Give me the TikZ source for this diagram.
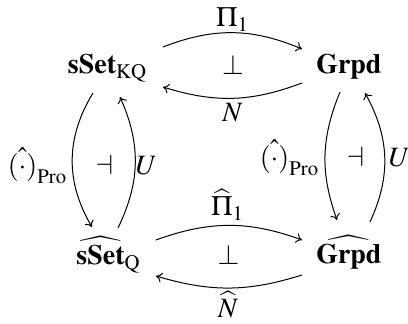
\documentclass[tikz,border=0pt]{standalone}
\usepackage{mathptmx}
\usepackage[no-math]{fontspec}
\setmainfont{Liberation Serif}
\usetikzlibrary{arrows.meta}
\begin{document}
\begin{tikzpicture}[x=0.5pt,y=-0.5pt,
  every node/.style={inner sep=0pt, font=\fontsize{14}{16}\selectfont},
  obj/.style={anchor=base},
  lbl/.style={anchor=base},
  arr/.style={-{To[length=3pt,width=5pt]}, line width=0.5pt}]
\useasboundingbox (0,0) rectangle (408,324);
\node[obj] (A) at (107.5,74) {$\mathbf{sSet}_{\mathrm{KQ}}$};
\node[obj] (B) at (349,74) {$\mathbf{Grpd}$};
\node[obj] (C) at (108.5,265) {$\widehat{\mathbf{sSet}}_{\mathrm{Q}}$};
\node[obj] (D) at (349,264) {$\widehat{\mathbf{Grpd}}$};
% horizontal arrows
\draw[arr] ([shift={(55.5,-27)}]A.base) to[bend left=22] ([shift={(-47,-25)}]B.base);
\draw[arr] ([shift={(-47,9)}]B.base) to[bend left=19] ([shift={(55.5,13)}]A.base);
\draw[arr] ([shift={(47.5,-25)}]C.base) to[bend left=20] ([shift={(-47,-24)}]D.base);
\draw[arr] ([shift={(-47,11)}]D.base) to[bend left=17] ([shift={(47.5,11)}]C.base);
% vertical arrows
\draw[arr] ([shift={(-14.5,19)}]A.base) to[bend right=31] ([shift={(-16.5,-38)}]C.base);
\draw[arr] ([shift={(9.5,-37)}]C.base) to[bend right=25] ([shift={(12.5,23)}]A.base);
\draw[arr] ([shift={(-9,18)}]B.base) to[bend right=21] ([shift={(-12,-44)}]D.base);
\draw[arr] ([shift={(21,-42)}]D.base) to[bend right=27] ([shift={(16,19)}]B.base);
% labels
\node[lbl] (p1) at (232.5,27) {$\Pi_1$};
\node[lbl] (n1) at (232.5,122) {$N$};
\node[lbl] (perp1) at (233,75) {$\perp$};
\node[lbl] (p2) at (227.5,216) {$\widehat{\Pi}_1$};
\node[lbl] (n2) at (228,318) {$\widehat{N}$};
\node[lbl] (perp2) at (228.5,265) {$\perp$};
\node[lbl] (pro1) at (37.5,175) {$\hat{(\cdot)}_{\mathrm{Pro}}$};
\node[lbl] (adj1) at (104.5,175) {$\dashv$};
\node[lbl] (u1) at (146.5,175) {$U$};
\node[lbl] (pro2) at (289.5,167) {$\hat{(\cdot)}_{\mathrm{Pro}}$};
\node[lbl] (adj2) at (355.5,167) {$\dashv$};
\node[lbl] (u2) at (399.5,167) {$U$};
\end{tikzpicture}
\end{document}
